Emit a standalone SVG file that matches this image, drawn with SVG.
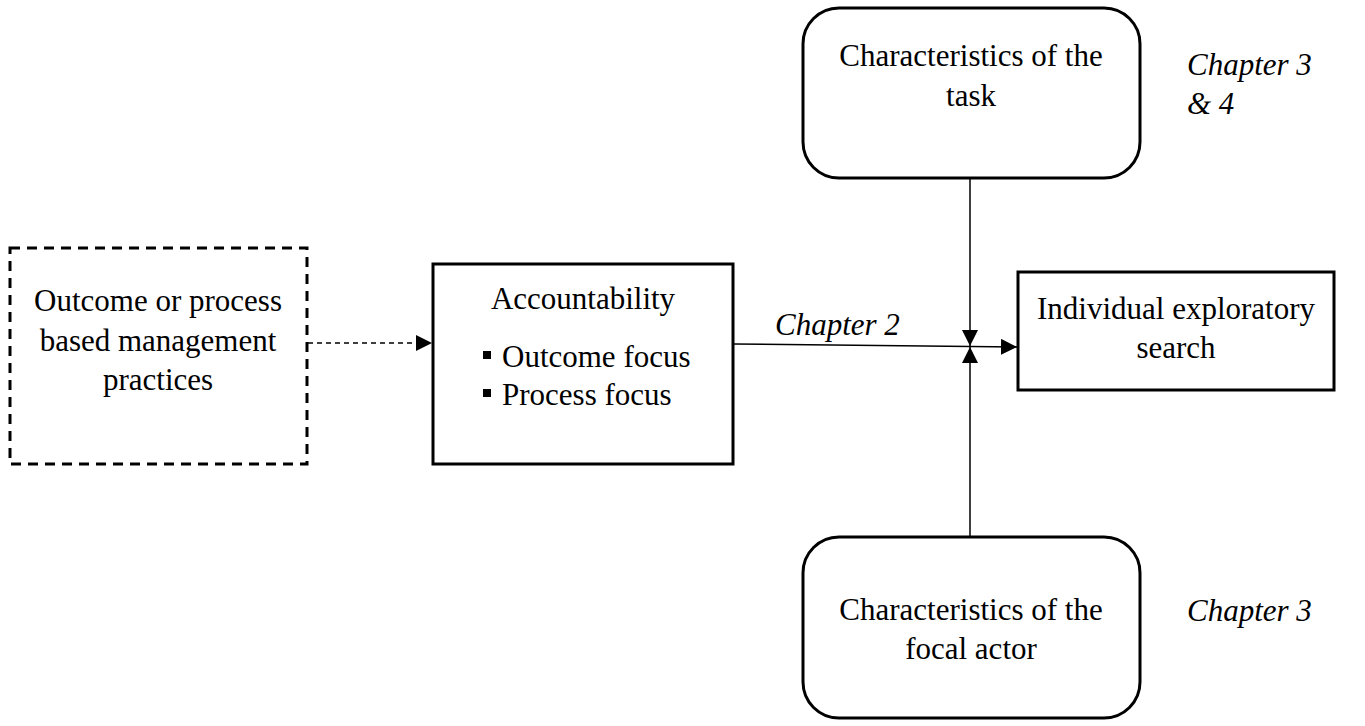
<svg xmlns="http://www.w3.org/2000/svg" width="1365" height="726" viewBox="0 0 1365 726">
<style>
text{font-family:"Liberation Serif","Times New Roman",serif;font-size:31px;fill:#000}
.c{text-anchor:middle}
.i{font-style:italic}
.box{fill:#fff;stroke:#000;stroke-width:3}
.ln{stroke:#000;stroke-width:1.5;fill:none}
</style>
<defs>
<marker id="ah" viewBox="0 0 10 10" refX="10" refY="5" markerWidth="10" markerHeight="10" markerUnits="userSpaceOnUse" orient="auto"><path d="M0,0 L10,5 L0,10 z" fill="#000"/></marker>
<marker id="ah2" viewBox="0 0 16 16" refX="16" refY="8" markerWidth="16" markerHeight="16" markerUnits="userSpaceOnUse" orient="auto"><path d="M0,0 L16,8 L0,16 z" fill="#000"/></marker>
</defs>
<g id="connectors">
<line class="ln" x1="308" y1="343" x2="432" y2="343" stroke-dasharray="5,4" marker-end="url(#ah2)"/>
<line class="ln" x1="734" y1="344" x2="1017" y2="347" marker-end="url(#ah2)"/>
<line class="ln" x1="970" y1="179" x2="970" y2="346" marker-end="url(#ah2)"/>
<line class="ln" x1="970" y1="536" x2="970" y2="347" marker-end="url(#ah2)"/>
<text class="i" x="775" y="335">Chapter 2</text>
</g>
<g id="n-practices">
<rect x="10" y="248" width="297" height="216" fill="#fff" stroke="#000" stroke-width="3" stroke-dasharray="10,7"/>
<text class="c" x="158" y="311">Outcome or process</text>
<text class="c" x="158" y="351">based management</text>
<text class="c" x="158" y="390">practices</text>
</g>
<g id="n-accountability">
<rect class="box" x="433" y="264" width="300" height="200"/>
<text class="c" x="583" y="309">Accountability</text>
<rect x="483" y="351" width="8" height="8"/>
<text x="502" y="367">Outcome focus</text>
<rect x="483" y="389" width="8" height="8"/>
<text x="502" y="405">Process focus</text>
</g>
<g id="n-task">
<rect class="box" x="803" y="8" width="337" height="170" rx="36"/>
<text class="c" x="971" y="66">Characteristics of the</text>
<text class="c" x="971" y="106">task</text>
<text class="i" x="1187" y="75">Chapter 3</text>
<text class="i" x="1187" y="114">&amp; 4</text>
</g>
<g id="n-search">
<rect class="box" x="1018" y="272" width="316" height="118"/>
<text class="c" x="1176" y="319">Individual exploratory</text>
<text class="c" x="1176" y="358">search</text>
</g>
<g id="n-actor">
<rect class="box" x="803" y="537" width="337" height="181" rx="36"/>
<text class="c" x="971" y="620">Characteristics of the</text>
<text class="c" x="971" y="659">focal actor</text>
<text class="i" x="1187" y="621">Chapter 3</text>
</g>
</svg>
